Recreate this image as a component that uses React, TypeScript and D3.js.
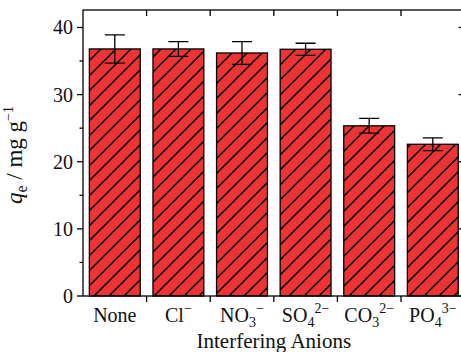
import { useEffect, useRef } from 'react'
import * as d3 from 'd3'

// anion categories, split into base / subscript / superscript parts
const labelBase = ['None', 'Cl', 'NO', 'SO', 'CO', 'PO']
const labelSub = ['', '', '3', '4', '3', '4']
const labelSup = ['', '−', '−', '2−', '2−', '3−']

// adsorption capacity (mg/g) and error
const qeValues = [36.8, 36.8, 36.2, 36.75, 25.35, 22.6]
const qeErrors = [2.1, 1.1, 1.7, 0.9, 1.1, 0.95]

const yMajorTicks = [0, 10, 20, 30, 40]
const yMinorTicks = [5, 15, 25, 35]

export default function App() {
  const svgRef = useRef<SVGSVGElement>(null)

  useEffect(() => {
    if (!svgRef.current) return
    const svg = d3.select(svgRef.current)
    svg.selectAll('*').remove()

    const W = 461
    const H = 352
    const margin = { top: 10, right: -3.6, bottom: 56, left: 83 }
    const x0 = margin.left
    const x1 = W - margin.right
    const y0 = margin.top
    const y1 = H - margin.bottom
    const font = '"Liberation Serif", "Times New Roman", serif'
    const red = '#ec3434'

    const cats = labelBase.map((d, i) => d + labelSub[i] + labelSup[i])

    const x = d3.scaleBand<string>()
      .domain(cats)
      .range([x0, x1])
      .paddingInner(0.2)
      .paddingOuter(0.1)

    const y = d3.scaleLinear().domain([0, 42.6]).range([y1, y0])

    // hatch pattern
    const s = 15
    const defs = svg.append('defs')
    const pat = defs.append('pattern')
      .attr('id', 'hatch')
      .attr('patternUnits', 'userSpaceOnUse')
      .attr('width', s)
      .attr('height', s)
    pat.append('rect').attr('width', s).attr('height', s).attr('fill', red)
    pat.append('path')
      .attr('d', `M0,${s} L${s},0 M${-s / 4},${s / 4} L${s / 4},${-s / 4} M${s * 0.75},${s * 1.25} L${s * 1.25},${s * 0.75}`)
      .attr('stroke', '#000')
      .attr('stroke-width', 1.5)

    // bars
    svg.append('g')
      .selectAll('rect')
      .data(cats)
      .join('rect')
      .attr('x', d => x(d)!)
      .attr('y', (d, i) => y(qeValues[i]))
      .attr('width', x.bandwidth())
      .attr('height', (d, i) => y(0) - y(qeValues[i]))
      .attr('fill', 'url(#hatch)')
      .attr('stroke', '#000')
      .attr('stroke-width', 1.3)

    // error bars
    const capW = 10
    const eb = svg.append('g')
      .attr('stroke', '#000')
      .attr('stroke-width', 1.3)
      .attr('fill', 'none')
    cats.forEach((c, i) => {
      const cx = x(c)! + x.bandwidth() / 2
      const hi = y(qeValues[i] + qeErrors[i])
      const lo = y(qeValues[i] - qeErrors[i])
      eb.append('path')
        .attr('d', `M${cx},${hi} V${lo} M${cx - capW},${hi} H${cx + capW} M${cx - capW},${lo} H${cx + capW}`)
    })

    // frame
    const axisG = svg.append('g').attr('stroke', '#000').attr('stroke-width', 1.3).attr('fill', 'none')
    axisG.append('rect')
      .attr('x', x0)
      .attr('y', y0)
      .attr('width', x1 - x0)
      .attr('height', y1 - y0)

    // y ticks: left outward, right inward
    const major = 6
    const minor = 3.5
    yMajorTicks.forEach(t => {
      axisG.append('line').attr('x1', x0 - major).attr('x2', x0).attr('y1', y(t)).attr('y2', y(t))
      axisG.append('line').attr('x1', x1 - major).attr('x2', x1).attr('y1', y(t)).attr('y2', y(t))
    })
    yMinorTicks.forEach(t => {
      axisG.append('line').attr('x1', x0 - minor).attr('x2', x0).attr('y1', y(t)).attr('y2', y(t))
      axisG.append('line').attr('x1', x1 - minor).attr('x2', x1).attr('y1', y(t)).attr('y2', y(t))
    })

    // x ticks at category boundaries: bottom outward, top inward
    const step = x.step()
    cats.slice(1).forEach(c => {
      const bx = x(c)! - (step - x.bandwidth()) / 2
      axisG.append('line').attr('x1', bx).attr('x2', bx).attr('y1', y1).attr('y2', y1 + major)
      axisG.append('line').attr('x1', bx).attr('x2', bx).attr('y1', y0).attr('y2', y0 + major)
    })

    // y tick labels
    svg.append('g')
      .selectAll('text')
      .data(yMajorTicks)
      .join('text')
      .attr('x', x0 - 10)
      .attr('y', d => y(d))
      .attr('dy', '0.35em')
      .attr('text-anchor', 'end')
      .style('font-family', font)
      .style('font-size', '20px')
      .attr('fill', '#111')
      .text(d => d)

    // x tick labels with sub/superscripts
    const xl = svg.append('g')
    cats.forEach((c, i) => {
      const t = xl.append('text')
        .attr('x', x(c)! + x.bandwidth() / 2)
        .attr('y', y1 + 26)
        .attr('text-anchor', 'middle')
        .style('font-family', font)
        .style('font-size', '20px')
        .attr('fill', '#111')
      t.append('tspan').text(labelBase[i])
      if (labelSub[i]) {
        t.append('tspan').attr('dy', 5).style('font-size', '14px').text(labelSub[i])
      }
      if (labelSup[i]) {
        t.append('tspan').attr('dy', labelSub[i] ? -14 : -9).style('font-size', '14px').text(labelSup[i])
      }
    })

    // x axis title
    svg.append('text')
      .attr('x', (x0 + x1) / 2)
      .attr('y', H - 4)
      .attr('text-anchor', 'middle')
      .style('font-family', font)
      .style('font-size', '21px')
      .attr('fill', '#111')
      .text('Interfering Anions')

    // y axis title
    const yt = svg.append('text')
      .attr('transform', `translate(22,${(y0 + y1) / 2 + 2}) rotate(-90)`)
      .attr('text-anchor', 'middle')
      .style('font-family', font)
      .style('font-size', '23px')
      .attr('fill', '#111')
    yt.append('tspan').style('font-style', 'italic').text('q')
    yt.append('tspan').attr('dy', 5).style('font-size', '16px').text('e')
    yt.append('tspan').attr('dy', -5).text(' / mg g')
    yt.append('tspan').attr('dy', -9).style('font-size', '14px').text('−1')
  }, [])

  return (
    <svg
      ref={svgRef}
      width={461}
      height={352}
      style={{ position: 'absolute', left: 0, top: 0, background: '#fff' }}
    />
  )
}
